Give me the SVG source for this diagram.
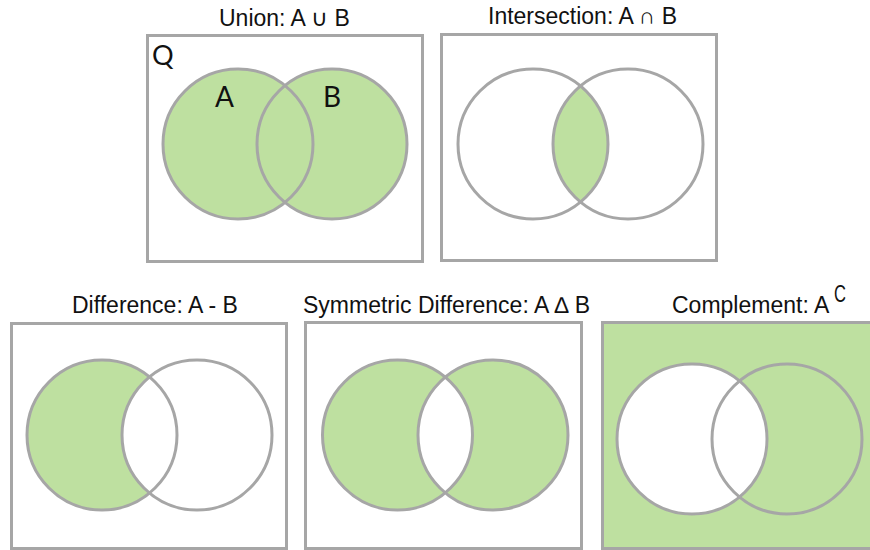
<svg xmlns="http://www.w3.org/2000/svg" width="870" height="550" viewBox="0 0 870 550">
<style>
.frame{fill:#fff;stroke:#a6a6a6;stroke-width:3}
.ring{fill:none;stroke:#a6a6a6;stroke-width:3}
.g{fill:#bee0a0}
.w{fill:#fff}
.title{font-family:"Liberation Sans",Arial,sans-serif;font-size:23px;fill:#111}
.lbl{font-family:Lato,"DejaVu Sans",sans-serif;fill:#111}
</style>
<defs>
<clipPath id="clipA2"><circle cx="533" cy="144" r="75"/></clipPath>
<clipPath id="clipA4"><circle cx="397.5" cy="435" r="75"/></clipPath>
</defs>
<rect width="870" height="550" fill="#fff"/>

<g id="union">
<text class="title" x="219" y="26">Union: A ∪ B</text>
<rect class="frame" x="147.5" y="35.5" width="275" height="226"/>
<circle class="g" cx="238" cy="144" r="75"/>
<circle class="g" cx="332" cy="144" r="75"/>
<circle class="ring" cx="238" cy="144" r="75"/>
<circle class="ring" cx="332" cy="144" r="75"/>
<text class="lbl" x="152" y="65" font-size="27">Q</text>
<text class="lbl" x="215" y="107" font-size="28">A</text>
<text class="lbl" x="323" y="107" font-size="28">B</text>
</g>

<g id="intersection">
<text class="title" x="488" y="24">Intersection: A ∩ B</text>
<rect class="frame" x="441.5" y="34.5" width="275" height="226"/>
<circle class="g" cx="628" cy="144" r="75" clip-path="url(#clipA2)"/>
<circle class="ring" cx="533" cy="144" r="75"/>
<circle class="ring" cx="628" cy="144" r="75"/>
</g>

<g id="difference">
<text class="title" x="72" y="313">Difference: A - B</text>
<rect class="frame" x="11.5" y="323.5" width="275" height="225"/>
<circle class="g" cx="102" cy="435" r="75"/>
<circle class="w" cx="197" cy="435" r="75"/>
<circle class="ring" cx="102" cy="435" r="75"/>
<circle class="ring" cx="197" cy="435" r="75"/>
</g>

<g id="symmetric-difference">
<text class="title" x="303" y="313">Symmetric Difference: A ∆ B</text>
<rect class="frame" x="305.5" y="322.5" width="276" height="226"/>
<circle class="g" cx="397.5" cy="435" r="75"/>
<circle class="g" cx="493" cy="435" r="75"/>
<circle class="w" cx="493" cy="435" r="75" clip-path="url(#clipA4)"/>
<circle class="ring" cx="397.5" cy="435" r="75"/>
<circle class="ring" cx="493" cy="435" r="75"/>
</g>

<g id="complement">
<text class="title" x="672" y="313">Complement: A</text>
<text class="title" x="0" y="0" font-size="17" transform="translate(834 302) scale(0.72 1)">C</text>
<rect x="602.5" y="322.5" width="280" height="226" fill="#bee0a0" stroke="#a6a6a6" stroke-width="3"/>
<circle class="w" cx="692" cy="439" r="75"/>
<circle class="ring" cx="692" cy="439" r="75"/>
<circle class="ring" cx="787" cy="439" r="75"/>
</g>
</svg>
